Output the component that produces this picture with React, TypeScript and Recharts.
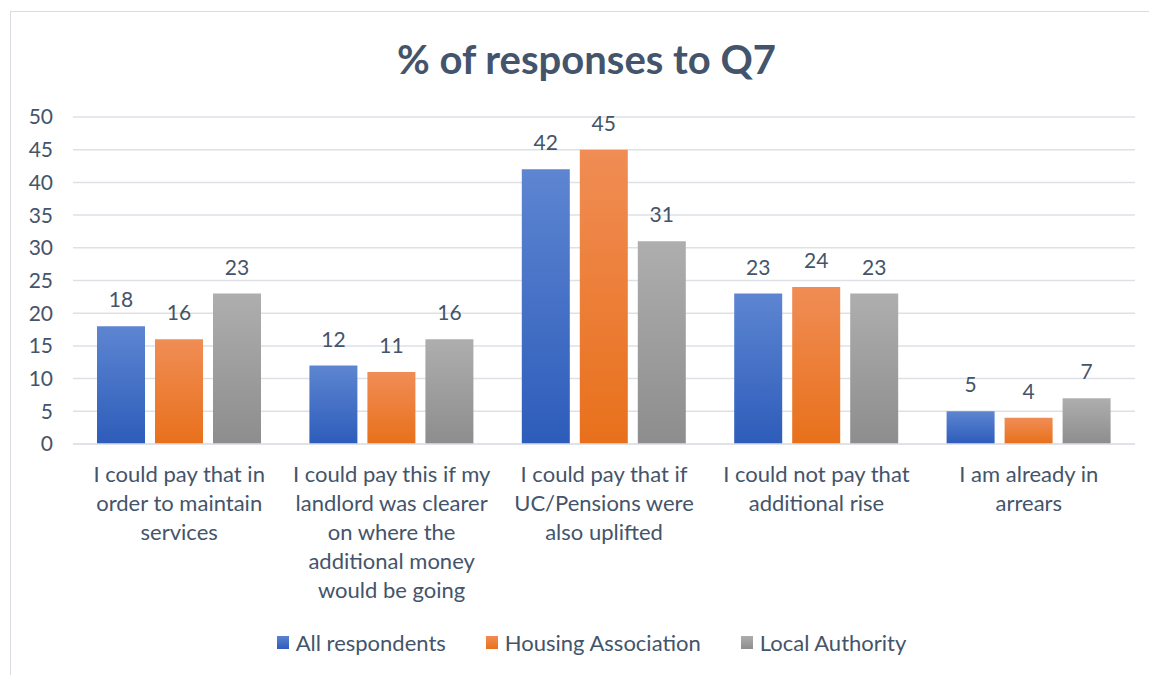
import React from "react";
import { BarChart, Bar, XAxis, YAxis, CartesianGrid, Legend, LabelList } from "recharts";

const categories = [
  "I could pay that in\norder to maintain\nservices",
  "I could pay this if my\nlandlord was clearer\non where the\nadditional money\nwould be going",
  "I could pay that if\nUC/Pensions were\nalso uplifted",
  "I could not pay that\nadditional rise",
  "I am already in\narrears",
];
const allRespondents = [18, 12, 42, 23, 5];
const housingAssociation = [16, 11, 45, 24, 4];
const localAuthority = [23, 16, 31, 23, 7];
const yTicks = [0, 5, 10, 15, 20, 25, 30, 35, 40, 45, 50];

const seriesNames = ["All respondents", "Housing Association", "Local Authority"];

const data = categories.map((c, i) => ({
  category: c,
  all: allRespondents[i],
  ha: housingAssociation[i],
  la: localAuthority[i],
}));

const TEXT = "#44546A";
const FONT = "Lato, 'Open Sans', sans-serif";

const XTick = (props: any) => {
  const { x, y, payload } = props;
  const lines = String(payload.value).split("\n");
  return (
    <g transform={`translate(${x},${y})`}>
      <text textAnchor="middle" fill={TEXT} fontSize={22} fontFamily={FONT}>
        {lines.map((l, i) => (
          <tspan key={i} x={0} dy={i === 0 ? 30 : 29}>
            {l}
          </tspan>
        ))}
      </text>
    </g>
  );
};

const legendGrads = [
  "linear-gradient(#5B83D0, #2E5DBB)",
  "linear-gradient(#F08C52, #E9711C)",
  "linear-gradient(#ADADAD, #8E8E8E)",
];

const LegendContent = () => (
  <div style={{ display: "flex", justifyContent: "center", alignItems: "center", fontFamily: FONT, fontSize: 22, color: TEXT, paddingLeft: 34 }}>
    {seriesNames.map((n, i) => (
      <div key={n} style={{ display: "flex", alignItems: "center", marginRight: i < 2 ? 40 : 0 }}>
        <span style={{ display: "inline-block", width: 12, height: 13, background: legendGrads[i], marginRight: 7 }} />
        <span>{n}</span>
      </div>
    ))}
  </div>
);

export default function App() {
  return (
    <div style={{ position: "absolute", left: 0, top: 0, width: 1149, height: 675, background: "#fff", overflow: "hidden" }}>
      <div style={{ position: "absolute", left: 10, top: 11, width: 1160, height: 690, border: "1.5px solid #D9DDE3", boxSizing: "border-box" }} />
      <div style={{ position: "absolute", left: 12, top: 35, width: 1149, textAlign: "center", fontFamily: FONT, fontWeight: 700, fontSize: 40, color: TEXT }}>
        % of responses to Q7
      </div>
      <div style={{ position: "absolute", left: 0, top: 0 }}>
        <BarChart
          width={1149}
          height={675}
          data={data}
          margin={{ top: 117, right: 14, left: 0, bottom: 81 }}
          barSize={48}
          barGap={10}
        >
          <defs>
            <linearGradient id="gBlue" x1="0" y1="0" x2="0" y2="1">
              <stop offset="0%" stopColor="#5D85D1" />
              <stop offset="100%" stopColor="#2D5CBA" />
            </linearGradient>
            <linearGradient id="gOrange" x1="0" y1="0" x2="0" y2="1">
              <stop offset="0%" stopColor="#F08D55" />
              <stop offset="100%" stopColor="#E8701B" />
            </linearGradient>
            <linearGradient id="gGray" x1="0" y1="0" x2="0" y2="1">
              <stop offset="0%" stopColor="#AEAEAE" />
              <stop offset="100%" stopColor="#8D8D8D" />
            </linearGradient>
          </defs>
          <CartesianGrid vertical={false} stroke="#DDE1E6" strokeWidth={1.5} />
          <XAxis
            dataKey="category"
            interval={0}
            height={150}
            tick={<XTick />}
            axisLine={{ stroke: "#DDE1E6", strokeWidth: 1.5 }}
            tickLine={false}
            tickSize={0}
            tickMargin={8}
          />
          <YAxis
            width={73}
            domain={[0, 50]}
            ticks={yTicks}
            interval={0}
            axisLine={false}
            tickLine={false}
            tickSize={6}
            tickMargin={14}
            tick={{ fill: TEXT, fontSize: 21, fontFamily: FONT }}
          />
          <Legend verticalAlign="middle" layout="horizontal" content={<LegendContent />} wrapperStyle={{ top: 629, left: 0, width: 1149 }} />
          <Bar dataKey="all" name={seriesNames[0]} fill="url(#gBlue)" isAnimationActive={false}>
            <LabelList dataKey="all" position="top" offset={19} fill={TEXT} fontSize={21} fontFamily={FONT} />
          </Bar>
          <Bar dataKey="ha" name={seriesNames[1]} fill="url(#gOrange)" isAnimationActive={false}>
            <LabelList dataKey="ha" position="top" offset={19} fill={TEXT} fontSize={21} fontFamily={FONT} />
          </Bar>
          <Bar dataKey="la" name={seriesNames[2]} fill="url(#gGray)" isAnimationActive={false}>
            <LabelList dataKey="la" position="top" offset={19} fill={TEXT} fontSize={21} fontFamily={FONT} />
          </Bar>
        </BarChart>
      </div>
    </div>
  );
}
